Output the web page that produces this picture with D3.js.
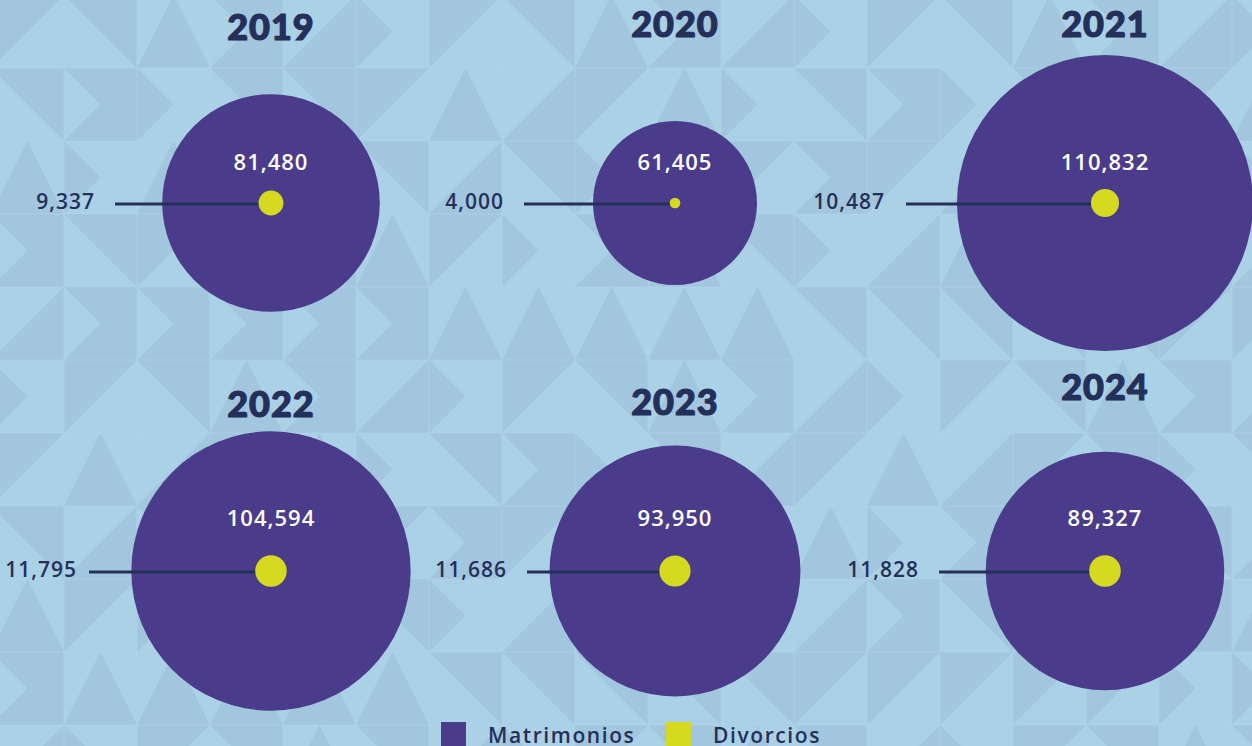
<!DOCTYPE html>
<html>
<head>
<meta charset="utf-8">
<script src="https://cdn.jsdelivr.net/npm/d3@7"></script>
<style>
  html, body { margin: 0; padding: 0; background: #abd1e6; overflow: hidden; }
  svg { display: block; }
</style>
</head>
<body>
<svg id="chart" width="1252" height="746"></svg>
<script>
// ---- Data ----
const years = ["2019", "2020", "2021", "2022", "2023", "2024"];
const matrimonios = [81480, 61405, 110832, 104594, 93950, 89327];
const divorcios = [9337, 4000, 10487, 11795, 11686, 11828];
const legendLabels = ["Matrimonios", "Divorcios"];

// ---- Layout (positions, not data) ----
const W = 1252, H = 746;
const colX = [271, 675, 1105];
const rowY = [203, 571];
const valueLabelY = [170, 526];
const titleY = [40, 37, 37, 417, 415, 400];
const leaderLen = [156, 151, 199, 182, 148, 166];
const labelGap = [20, 20, 21, 12, 20, 20];

const colors = {
  bgLight: "#abd1e6",
  bgDark: "#a1c6dd",
  matri: "#4a3c8a",
  divor: "#d5d920",
  navy: "#25305a"
};

const svg = d3.select("#chart");

// ---- Background geometric pattern ----
const bg = svg.append("g");
bg.append("rect").attr("width", W).attr("height", H).attr("fill", colors.bgLight);
const cell = 73, ox = -9, oy = -5;
const cells = [];
for (let j = 0; j < 11; j++) {
  for (let i = 0; i < 18; i++) {
    cells.push({i, j, k: (i * 7 + j * 13 + ((i * j) % 5)) % 6});
  }
}
bg.selectAll("path.tri").data(cells).join("path")
  .attr("class", "tri")
  .attr("fill", colors.bgDark)
  .attr("d", d => {
    const x0 = ox + d.i * cell, y0 = oy + d.j * cell, x1 = x0 + cell, y1 = y0 + cell, xm = x0 + cell / 2, ym = y0 + cell / 2;
    switch (d.k) {
      case 0: return `M${x0},${y0}L${x1},${y0}L${x0},${y1}Z`;
      case 1: return `M${x0},${y0}L${x1},${y1}L${x1},${y0}Z`;
      case 2: return `M${x0},${y1}L${xm},${y0}L${x1},${y1}Z`;
      case 3: return `M${x0},${y0}L${x1},${y0}L${x1},${y1}L${x0},${y1}L${xm},${ym}Z`;
      case 4: return `M${x0},${y1}L${x1},${y0}L${x1},${y1}Z`;
      default: return `M${x0},${y0}L${xm},${ym}L${x0},${y1}Z`;
    }
  });
const gl = bg.append("g").attr("stroke", "#b3d6ea").attr("stroke-width", 1).attr("opacity", 0.6);
for (let i = 0; i < 18; i++) gl.append("line").attr("x1", ox + i * cell).attr("x2", ox + i * cell).attr("y1", 0).attr("y2", H);
for (let j = 0; j < 11; j++) gl.append("line").attr("y1", oy + j * cell).attr("y2", oy + j * cell).attr("x1", 0).attr("x2", W);

// ---- Scale: radius linear in value ----
const r = d3.scaleLinear().domain([0, d3.max(matrimonios)]).range([0, 148]);

const data = years.map((y, i) => ({
  year: y, m: matrimonios[i], d: divorcios[i],
  cx: colX[i % 3], cy: rowY[Math.floor(i / 3)], ly: valueLabelY[Math.floor(i / 3)],
  ty: titleY[i], lead: leaderLen[i], gap: labelGap[i]
}));

const fmt = d3.format(",");

const g = svg.selectAll("g.panel").data(data).join("g").attr("class", "panel");

g.append("circle")
  .attr("cx", d => d.cx).attr("cy", d => d.cy)
  .attr("r", d => r(d.m)).attr("fill", colors.matri);

g.append("line")
  .attr("x1", d => d.cx - d.lead).attr("x2", d => d.cx)
  .attr("y1", d => d.cy + 1).attr("y2", d => d.cy + 1)
  .attr("stroke", colors.navy).attr("stroke-width", 3);

g.append("circle")
  .attr("cx", d => d.cx).attr("cy", d => d.cy)
  .attr("r", d => r(d.d)).attr("fill", colors.divor);

g.append("text")
  .attr("x", d => d.cx).attr("y", d => d.ly)
  .attr("text-anchor", "middle")
  .attr("fill", "#ffffff")
  .style("font-family", "'Open Sans', sans-serif").style("font-weight", 600)
  .style("font-size", "22px").style("letter-spacing", "1px")
  .text(d => fmt(d.m));

g.append("text")
  .attr("x", d => d.cx - d.lead - d.gap).attr("y", d => d.cy + 6)
  .attr("text-anchor", "end")
  .attr("fill", colors.navy)
  .style("font-family", "'Open Sans', sans-serif").style("font-weight", 600)
  .style("font-size", "21px").style("letter-spacing", "1px")
  .text(d => fmt(d.d));

g.append("text")
  .attr("x", d => d.cx).attr("y", d => d.ty)
  .attr("text-anchor", "middle")
  .attr("fill", colors.navy)
  .attr("stroke", colors.navy).attr("stroke-width", 1.2)
  .style("font-family", "Lato, sans-serif").style("font-weight", 900)
  .style("font-size", "36px").style("letter-spacing", "1px")
  .text(d => d.year);

// ---- Legend ----
const legend = svg.append("g");
const legX = [441, 666];
const legColors = [colors.matri, colors.divor];
legendLabels.forEach((lab, i) => {
  legend.append("rect").attr("x", legX[i]).attr("y", 722).attr("width", 25).attr("height", 26).attr("fill", legColors[i]);
  legend.append("text").attr("x", legX[i] + 47).attr("y", 743)
    .attr("fill", colors.navy)
    .style("font-family", "'Open Sans', sans-serif").style("font-weight", 600)
    .style("font-size", "21px").style("letter-spacing", "1.6px")
    .text(lab);
});
</script>
</body>
</html>
